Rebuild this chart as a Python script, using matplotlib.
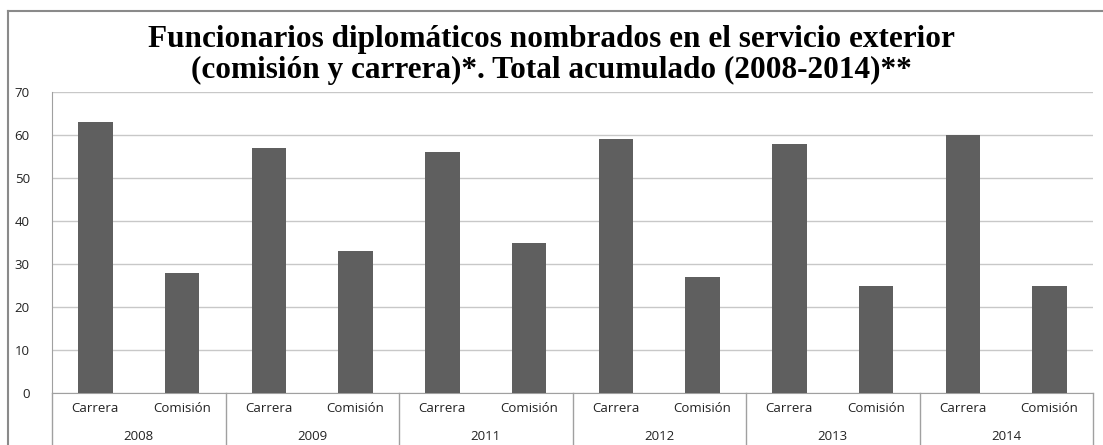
import matplotlib
matplotlib.use("Agg")
import matplotlib.pyplot as plt
from matplotlib.transforms import blended_transform_factory
from matplotlib.lines import Line2D

years = ["2008", "2009", "2011", "2012", "2013", "2014"]
kinds = ["Carrera", "Comisión"]
carrera = [63, 57, 56, 59, 58, 60]
comision = [28, 33, 35, 27, 25, 25]

TITLE = ("Funcionarios diplomáticos nombrados en el servicio exterior\n"
         "(comisión y carrera)*. Total acumulado (2008-2014)**")

BAR_COLOR = "#5f5f5f"
GRID_COLOR = "#c8c8c8"
LABEL_FONT = ["Open Sans", "DejaVu Sans"]

fig = plt.figure(figsize=(11.03, 4.45), dpi=100)
ax = fig.add_axes([52 / 1103, 1 - 393 / 445, (1093 - 52) / 1103, (393 - 92) / 445])

# interleave: each year -> Carrera, Comisión
vals = []
for c, m in zip(carrera, comision):
    vals += [c, m]
xs = list(range(len(vals)))
ax.bar(xs, vals, width=0.4, color=BAR_COLOR, zorder=3)

ax.set_xlim(-0.5, len(vals) - 0.5)
ax.set_ylim(0, 70)
ax.set_yticks(range(0, 71, 10))
ax.yaxis.grid(True, color=GRID_COLOR, linewidth=1)
ax.set_axisbelow(True)
ax.tick_params(axis="y", length=0, pad=16, labelsize=9.5, labelcolor="#222222")
for lab in ax.get_yticklabels():
    lab.set_family(LABEL_FONT)
ax.set_xticks([])

for s in ("top", "right"):
    ax.spines[s].set_visible(False)
ax.spines["left"].set_color("#a0a0a0")
ax.spines["bottom"].set_color("#a0a0a0")

# two-level category axis
tr = blended_transform_factory(ax.transData, ax.transAxes)
for i, x in enumerate(xs):
    ax.text(x, -0.05, kinds[i % 2], transform=tr, ha="center", va="center",
            fontsize=9.5, family=LABEL_FONT, color="#222222")
for g, y in enumerate(years):
    ax.text(2 * g + 0.5, -0.145, y, transform=tr, ha="center", va="center",
            fontsize=9.5, family=LABEL_FONT, color="#222222")
for g in range(len(years) + 1):
    ax.plot([2 * g - 0.5, 2 * g - 0.5], [0, -0.2], transform=tr, color="#a0a0a0",
            linewidth=1, clip_on=False)

fig.text(0.5, 0.876, TITLE, ha="center", va="center", fontsize=22.5,
         fontweight="bold", family=["Liberation Serif", "DejaVu Serif"],
         linespacing=1.08)

# outer frame (top and left edges)
y0 = 1 - 11 / 445
x0 = 8 / 1103
fig.add_artist(Line2D([x0, 1], [y0, y0], color="#8a8a8a", linewidth=1.5))
fig.add_artist(Line2D([x0, x0], [0, y0], color="#8a8a8a", linewidth=1.5))

fig.savefig("out.png", dpi=100)
